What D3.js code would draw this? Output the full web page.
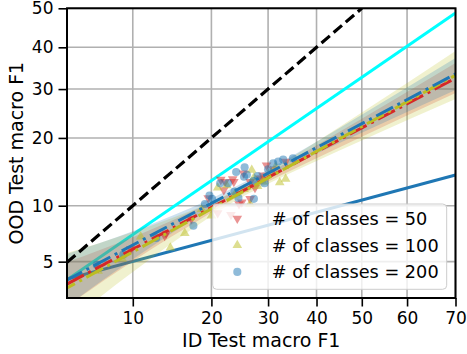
<!DOCTYPE html>
<html><head><meta charset="utf-8">
<script src="https://cdn.jsdelivr.net/npm/d3@7"></script>
<style>body{margin:0;background:#fff} svg{display:block;font-family:"DejaVu Sans",sans-serif}</style>
</head><body><svg id="c" width="467" height="354"></svg>
<script>
// ---- data (values in % macro F1) ----
const xTicks=[10,20,30,40,50,60,70];
const yTicks=[5,10,20,30,40,50];
const xDomain=[4.95,70];
const yDomain=[3,50];
const seriesNames=["# of classes = 50","# of classes = 100","# of classes = 200"];
const seriesColors=["#d62728","#bcbd22","#1f77b4"];
const pts50=[[22.2,13.0],[23.7,13.0],[25.1,10.4],[26.6,10.8],[13.5,7.0],[23.5,13.4],[22.0,11.9],[24.6,10.2],[25.4,14.2],[28.4,13.5],[29.0,13.9],[26.6,13.0],[21.5,13.3],[29.7,15.4],[13.7,7.2],[21.0,9.2],[23.2,9.0],[19.5,10.9],[27.5,12.2],[31.0,14.8],[9.8,5.9],[7.0,4.6],[17.0,8.6],[33.5,16.0]];
const pts100=[[26.9,14.7],[33.5,13.4],[32.3,12.9],[21.0,12.2],[14.2,6.0],[10.8,6.9],[30.5,14.2],[28.0,12.4],[26.6,10.2],[16.1,7.2],[20.0,8.9],[24.0,11.5],[22.5,12.5],[29.0,13.0],[18.5,9.6],[25.5,12.0],[27.3,13.6],[7.0,4.4],[9.0,5.2],[31.5,15.2]];
const pts200=[[24.1,14.4],[25.5,13.7],[27.2,13.1],[27.3,10.8],[24.5,10.9],[19.0,10.2],[17.3,7.9],[32.0,16.0],[31.0,15.7],[21.4,12.8],[22.7,12.8],[19.7,11.2],[26.0,14.0],[28.0,13.8],[33.0,16.3],[29.3,12.8],[23.8,11.7],[20.1,10.8],[35.0,16.5],[12.5,6.8],[9.1,5.5],[6.9,4.8],[30.0,14.8],[25.6,15.1]];
const fit50=[[4.95,3.67],[70,32.5]];
const fit100=[[4.95,3.47],[70,33.2]];
const fit200=[[4.95,3.89],[70,33.5]];
const bandX=[4.95,10,20,25,30,50,70];
const band50Lo=[2.66,5.03,9.24,11.32,13.05,20.22,29.12];
const band50Hi=[4.97,6.86,10.37,12.09,14.18,23.67,36.12];
const band100Lo=[2.05,4.34,8.88,10.96,12.72,19.55,27.8];
const band100Hi=[5.60,7.32,10.44,12.23,14.42,24.95,39.08];
const band200Lo=[2.66,5.16,9.68,11.70,13.61,20.97,29.79];
const band200Hi=[5.53,7.39,10.84,12.75,14.78,24.48,37.35];
const identityLine=[[4.95,4.95],[50,50]];
const cyanLine=[[4.95,3.9],[70,48.8]];
const blueLine=[[4.95,3.94],[70,13.95]];

// ---- probit transform ----
function probit(p){
 const a=[-3.969683028665376e+01,2.209460984245205e+02,-2.759285104469687e+02,1.383577518672690e+02,-3.066479806614716e+01,2.506628277459239e+00];
 const b=[-5.447609879822406e+01,1.615858368580409e+02,-1.556989798598866e+02,6.680131188771972e+01,-1.328068155288572e+01];
 const c=[-7.784894002430293e-03,-3.223964580411365e-01,-2.400758277161838e+00,-2.549732539343734e+00,4.374664141464968e+00,2.938163982698783e+00];
 const d=[7.784695709041462e-03,3.224671290700398e-01,2.445134137142996e+00,3.754408661907416e+00];
 const pl=0.02425, ph=1-pl; let q,r;
 if(p<pl){q=Math.sqrt(-2*Math.log(p));return (((((c[0]*q+c[1])*q+c[2])*q+c[3])*q+c[4])*q+c[5])/((((d[0]*q+d[1])*q+d[2])*q+d[3])*q+1);}
 if(p<=ph){q=p-0.5;r=q*q;return (((((a[0]*r+a[1])*r+a[2])*r+a[3])*r+a[4])*r+a[5])*q/(((((b[0]*r+b[1])*r+b[2])*r+b[3])*r+b[4])*r+1);}
 q=Math.sqrt(-2*Math.log(1-p));return -(((((c[0]*q+c[1])*q+c[2])*q+c[3])*q+c[4])*q+c[5])/((((d[0]*q+d[1])*q+d[2])*q+d[3])*q+1);
}
const T=v=>probit(v/100);
const L=67,R=455.5,TOP=8.3,B=298;
const tx=d3.scaleLinear().domain(xDomain.map(T)).range([L,R]);
const ty=d3.scaleLinear().domain(yDomain.map(T)).range([B,TOP]);
const x=v=>tx(T(v)), y=v=>ty(T(v));

const svg=d3.select("#c");
svg.append("defs").append("clipPath").attr("id","clip").append("rect")
  .attr("x",L).attr("y",TOP).attr("width",R-L).attr("height",B-TOP);

// grid
const g=svg.append("g");
g.selectAll(".gx").data(xTicks).join("line").attr("x1",d=>x(d)).attr("x2",d=>x(d)).attr("y1",TOP).attr("y2",B)
  .attr("stroke","#b0b0b0").attr("stroke-width",1.6);
g.selectAll(".gy").data(yTicks).join("line").attr("y1",d=>y(d)).attr("y2",d=>y(d)).attr("x1",L).attr("x2",R)
  .attr("stroke","#b0b0b0").attr("stroke-width",1.6);

const plot=svg.append("g").attr("clip-path","url(#clip)");
const line=d3.line().x(d=>x(d[0])).y(d=>y(d[1]));

plot.append("path").attr("d",line(cyanLine)).attr("fill","none").attr("stroke","#00ffff").attr("stroke-width",3);
plot.append("path").attr("d",line(blueLine)).attr("fill","none").attr("stroke","#1f77b4").attr("stroke-width",3);

// bands
const area=d3.area().x(d=>x(d[0])).y0(d=>y(d[1])).y1(d=>y(d[2])).curve(d3.curveMonotoneX);
const bands=[[band50Lo,band50Hi],[band100Lo,band100Hi],[band200Lo,band200Hi]];
bands.forEach((bd,i)=>{
  const dat=bandX.map((xv,j)=>[xv,bd[0][j],bd[1][j]]);
  plot.append("path").attr("d",area(dat)).attr("fill",seriesColors[i]).attr("fill-opacity",0.22);
});

// scatter
const symTri=d3.symbol(d3.symbolTriangle,40)();
const symCirc=d3.symbol(d3.symbolCircle,52)();
function drawPts(data,i){
  const sym=i===2?symCirc:symTri;
  plot.append("g").selectAll("path").data(data).join("path")
    .attr("d",sym).attr("transform",d=>`translate(${x(d[0])},${y(d[1])})${i===0?" rotate(180)":""}`)
    .attr("fill",seriesColors[i]).attr("fill-opacity",0.5);
}
drawPts(pts50,0);drawPts(pts100,1);drawPts(pts200,2);

// regression lines
[fit50,fit100,fit200].forEach((f,i)=>{
  plot.append("path").attr("d",line(f)).attr("fill","none").attr("stroke",seriesColors[i]).attr("stroke-width",3)
    .attr("stroke-dasharray","19,5,3,5").attr("stroke-dashoffset",[0,10,2][i]);
});

// identity
plot.append("path").attr("d",line(identityLine)).attr("fill","none").attr("stroke","#000").attr("stroke-width",3.2)
  .attr("stroke-dasharray","11,5");

// axes
const xAxis=d3.axisBottom(tx).tickValues(xTicks.map(T)).tickFormat((d,i)=>xTicks[i]).tickSize(8.5).tickPadding(5);
const yAxis=d3.axisLeft(ty).tickValues(yTicks.map(T)).tickFormat((d,i)=>yTicks[i]).tickSize(8.5).tickPadding(5);
const ax=svg.append("g").attr("transform",`translate(0,${B})`).call(xAxis);
const ay=svg.append("g").attr("transform",`translate(${L},0)`).call(yAxis);
[ax,ay].forEach(a=>{
  a.select(".domain").remove();
  a.selectAll("line").attr("stroke","#000").attr("stroke-width",1.6);
  a.selectAll("text").attr("fill","#000").style("font-size","17px").style("font-family","DejaVu Sans");
});
svg.append("rect").attr("x",L).attr("y",TOP).attr("width",R-L).attr("height",B-TOP)
  .attr("fill","none").attr("stroke","#000").attr("stroke-width",2);

svg.append("text").attr("x",(L+R)/2).attr("y",347).attr("text-anchor","middle")
  .style("font-size","19px").text("ID Test macro F1");
svg.append("text").attr("transform",`translate(23,${(TOP+B)/2}) rotate(-90)`).attr("text-anchor","middle")
  .style("font-size","19px").text("OOD Test macro F1");

// legend
const lg=svg.append("g");
lg.append("rect").attr("x",212.7).attr("y",204).attr("width",234).attr("height",85.3).attr("rx",4)
  .attr("fill","#fff").attr("fill-opacity",0.8).attr("stroke","#cccccc").attr("stroke-width",1);
seriesNames.forEach((nm,i)=>{
  const cy=218.5+26.7*i;
  lg.append("path").attr("d",i===2?symCirc:symTri)
    .attr("transform",`translate(237.3,${cy})${i===0?" rotate(180)":""}`)
    .attr("fill",seriesColors[i]).attr("fill-opacity",0.5);
  lg.append("text").attr("x",271.7).attr("y",cy).attr("dy","0.36em").style("font-size","17.7px").text(nm);
});
</script></body></html>
